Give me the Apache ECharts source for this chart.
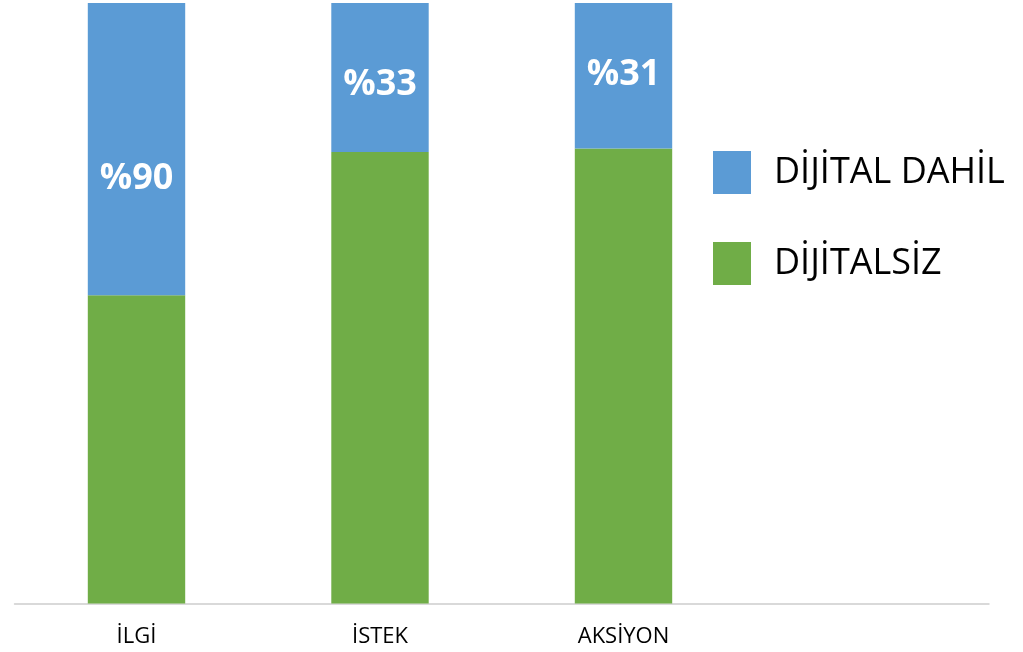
<!DOCTYPE html>
<html>
<head>
<meta charset="utf-8">
<script src="https://cdn.jsdelivr.net/npm/echarts@6/dist/echarts.min.js"></script>
<style>
  html, body { margin: 0; padding: 0; background: #ffffff; }
  #chart { width: 1023px; height: 652px; }
</style>
</head>
<body>
<div id="chart"></div>
<script>
// Funnel stages (the fourth slot is left empty to leave room for the legend)
const categories = ['İLGİ', 'İSTEK', 'AKSİYON', ''];
// Share labelled on the blue segment
const digitalValues = [90, 33, 31, null];
// Companion value for the green segment
const nonDigitalValues = [95, 100, 97, null];
const seriesNames = ['DİJİTAL DAHİL', 'DİJİTALSİZ'];

// Each column is drawn as a 100% stack of its two values
const totals = digitalValues.map((v, i) => (v == null ? null : v + nonDigitalValues[i]));
const share = (arr) => arr.map((v, i) => (v == null ? null : v / totals[i]));

const labelShift = [30, 7, -1, 0];

const chart = echarts.init(document.getElementById('chart'), null, { renderer: 'canvas' });
chart.setOption({
  animation: false,
  backgroundColor: '#ffffff',
  textStyle: { fontFamily: '"Open Sans", "Noto Sans", sans-serif' },
  grid: { left: 14.75, right: 34.25, top: 3, bottom: 48.5, containLabel: false },
  legend: {
    orient: 'vertical',
    left: 708,
    top: 146,
    itemWidth: 38,
    itemHeight: 43,
    itemGap: 48,
    icon: 'rect',
    selectedMode: false,
    data: [seriesNames[0], seriesNames[1]],
    textStyle: { fontSize: 36, color: '#000000', padding: [0, 0, 0, 18] }
  },
  xAxis: {
    type: 'category',
    data: categories,
    axisTick: { show: false },
    axisLine: { show: true, lineStyle: { color: '#d9d9d9', width: 2 } },
    axisLabel: { fontSize: 22, color: '#000000', margin: 22 }
  },
  yAxis: {
    type: 'value',
    min: 0,
    max: 1,
    show: false,
    splitLine: { show: false }
  },
  series: [
    {
      name: seriesNames[1],
      type: 'bar',
      stack: 'total',
      barWidth: '40%',
      itemStyle: { color: '#70AD47' },
      data: share(nonDigitalValues)
    },
    {
      name: seriesNames[0],
      type: 'bar',
      stack: 'total',
      barWidth: '40%',
      itemStyle: { color: '#5B9BD5' },
      data: share(digitalValues).map((v, i) => ({
        value: v,
        label: { offset: [0, labelShift[i]] }
      })),
      label: {
        show: true,
        position: 'inside',
        color: '#ffffff',
        fontSize: 36,
        fontWeight: 'bold',
        formatter: (p) => '%' + digitalValues[p.dataIndex]
      }
    }
  ]
});
</script>
</body>
</html>
